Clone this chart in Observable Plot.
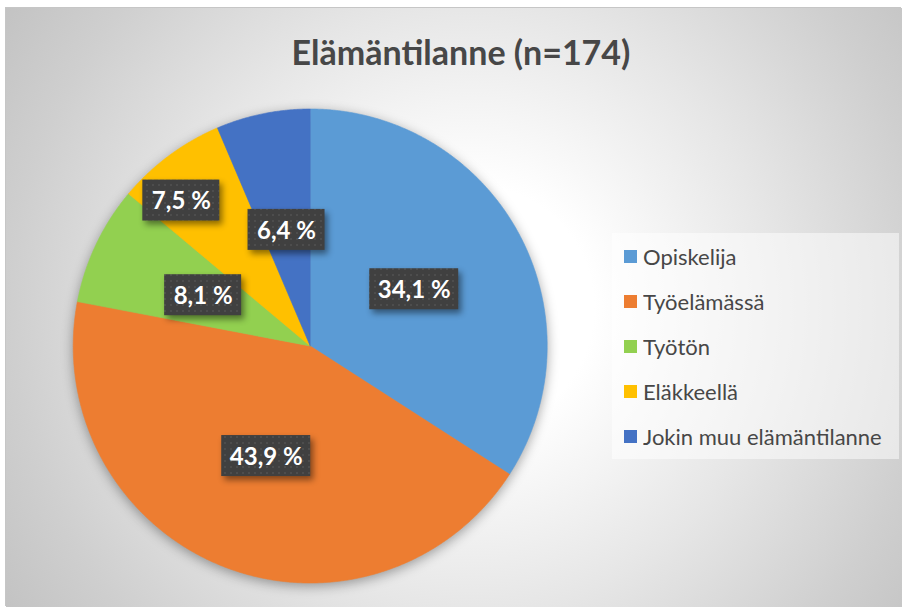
<!DOCTYPE html>
<html><head><meta charset="utf-8">
<script src="https://cdn.jsdelivr.net/npm/d3@7"></script>
<script src="https://cdn.jsdelivr.net/npm/@observablehq/plot@0.6"></script>
<style>
html,body{margin:0;padding:0;background:#fff;width:902px;height:607px;overflow:hidden}
#chart{position:absolute;left:6px;top:8px;width:896px;height:599px;overflow:hidden;
  box-shadow:-1px -1px 0 #c6c6c6;
  background:radial-gradient(circle farthest-corner at 52% 50%, #ffffff 0%, #ffffff 22%, #e6e6e6 55%, #cfcfcf 83%, #c3c3c3 100%);}
#title{position:absolute;left:0;top:27px;width:910px;text-align:center;font-family:Lato,"Open Sans",sans-serif;font-weight:bold;font-size:34px;line-height:34px;color:#474747}
#plot{position:absolute;left:0;top:0}
#legend{position:absolute;left:606px;top:225px;width:287px;height:226px;background:rgba(255,255,255,0.5)}
#legend .lg-swatches{margin:0;padding:1px 0 0 12px;font-family:Lato,"Open Sans",sans-serif;font-size:22px;color:#474747}
#legend .lg-swatch{height:45px;padding-bottom:0}
#legend .lg-swatch > svg{margin-right:6px}
</style>
</head><body>
<div id="chart">
  <div id="plot"></div>
  <div id="title">Elämäntilanne (n=174)</div>
  <div id="legend"></div>
</div>
<script>
const categories = ["Opiskelija", "Työelämässä", "Työtön", "Eläkkeellä", "Jokin muu elämäntilanne"];
const values = [34.1, 43.9, 8.1, 7.5, 6.4];
const colors = ["#5B9BD5", "#ED7D31", "#92D050", "#FFC000", "#4472C4"];

// layout
const W = 896, H = 599, CX = 303.7, CY = 337.5, R = 237;

const arcs = d3.pie().sort(null).startAngle(0).endAngle(2 * Math.PI)(values);

// sector outlines in unit-circle coordinates, derived from the pie angles
const sectors = [];
arcs.forEach((a, i) => {
  const name = categories[i];
  sectors.push({name, x: 0, y: 0});
  const n = Math.max(2, Math.ceil((a.endAngle - a.startAngle) / 0.005));
  for (let k = 0; k <= n; k++) {
    const t = a.startAngle + (a.endAngle - a.startAngle) * k / n;
    sectors.push({name, x: Math.sin(t), y: Math.cos(t)});
  }
  sectors.push({name, x: 0, y: 0});
});

const fmt = v => d3.format(".1f")(v).replace(".", ",") + " %";
const labels = arcs.map((a, i) => {
  let mid = (a.startAngle + a.endAngle) / 2;
  let r = 0.5;
  // the small "Eläkkeellä" label is pushed outward (best-fit placement)
  if (categories[i] === "Eläkkeellä") { r = 0.82; mid -= 5 * Math.PI / 180; }
  const text = fmt(values[i]);
  const w = (12 * text.length + 17) / R, h = 41 / R;
  const lx = r * Math.sin(mid), ly = r * Math.cos(mid);
  return {name: categories[i], text, lx, ly, x1: lx - w / 2, x2: lx + w / 2, y1: ly - h / 2, y2: ly + h / 2};
});

const plot = Plot.plot({
  width: W, height: H,
  margin: 0,
  style: {background: "transparent", overflow: "visible"},
  x: {domain: [-1, 1], range: [CX - R, CX + R], axis: null},
  y: {domain: [-1, 1], range: [CY + R, CY - R], axis: null},
  color: {domain: categories, range: colors},
  marks: [
    Plot.line(sectors, {x: "x", y: "y", z: "name", fill: "name", stroke: "name", strokeWidth: 0.6, curve: "linear"}),
    Plot.rect(labels, {x1: "x1", x2: "x2", y1: "y1", y2: "y2", fill: "url(#dots)"}),
    Plot.text(labels, {x: "lx", y: "ly", text: "text", fill: "white", fontSize: 24, fontWeight: "bold", fontFamily: "Lato, 'Open Sans', sans-serif", dy: 1})
  ]
});

// pattern + shadows
const svg = d3.select(plot);
const defs = svg.insert("defs", ":first-child");
const pat = defs.append("pattern").attr("id", "dots").attr("width", 6).attr("height", 6).attr("patternUnits", "userSpaceOnUse");
pat.append("rect").attr("width", 6).attr("height", 6).attr("fill", "#404040");
pat.append("rect").attr("x", 2).attr("y", 2).attr("width", 2).attr("height", 2).attr("fill", "#4d4d4d");
svg.select('g[aria-label="line"]').style("filter", "drop-shadow(0px 3px 6px rgba(0,0,0,0.35))");
svg.select('g[aria-label="rect"]').style("filter", "drop-shadow(3px 4px 3px rgba(0,0,0,0.45))");
document.getElementById("plot").appendChild(plot);

const legend = Plot.legend({
  color: {domain: categories, range: colors},
  legend: "swatches",
  columns: 1,
  swatchSize: 13,
  className: "lg"
});
document.getElementById("legend").appendChild(legend);
</script>
</body></html>
